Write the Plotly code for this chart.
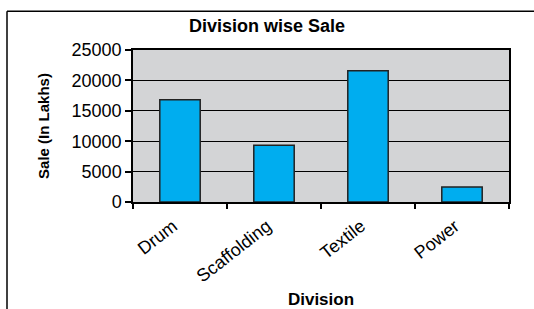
import plotly.graph_objects as go

divisions = ["Drum", "Scaffolding", "Textile", "Power"]
sales = [16800, 9350, 21600, 2450]
y_ticks = [0, 5000, 10000, 15000, 20000, 25000]
y_tick_labels = ["0", "5000", "10000", "15000", "20000", "25000"]

FONT = "Liberation Sans, Arial, sans-serif"

fig = go.Figure(go.Bar(
    x=divisions, y=sales,
    marker=dict(color="#00ADEF", line=dict(color="#222222", width=1.5)),
))

fig.update_layout(
    width=534, height=309,
    margin=dict(l=133, r=25, t=50, b=107, autoexpand=False),
    paper_bgcolor="white",
    plot_bgcolor="#D3D4D6",
    bargap=0.57,
    showlegend=False,
    font=dict(family=FONT, color="black", size=18),
    title=dict(text="<b>Division wise Sale</b>", x=0.5, xanchor="center",
               y=1 - 26 / 309, yanchor="middle", font=dict(size=18)),
    xaxis=dict(
        tickangle=-38, ticks="outside", tickson="boundaries", ticklen=5,
        tickcolor="black", tickwidth=1.5, automargin=False,
        ticklabelstandoff=5, ticklabelshift=-7,
        showline=True, linecolor="black", linewidth=1.5, mirror=True,
        showgrid=False, tickfont=dict(size=18),
        title=dict(text="<b>Division</b>", font=dict(size=17), standoff=14),
    ),
    yaxis=dict(
        range=[0, 25000], tickvals=y_ticks, ticktext=y_tick_labels,
        ticks="outside", ticklen=6, automargin=False,
        tickcolor="black", tickwidth=1.5,
        showline=True, linecolor="black", linewidth=1.5, mirror=True,
        showgrid=True, gridcolor="black", gridwidth=1.2,
        zeroline=False, tickfont=dict(size=18),
        title=dict(text="<b>Sale (In Lakhs)</b>", font=dict(size=15), standoff=18),
    ),
    shapes=[
        dict(type="line", xref="paper", yref="paper",
             x0=(7 - 133) / 376, x1=(540 - 133) / 376,
             y0=(201.5 - 12) / 151, y1=(201.5 - 12) / 151,
             line=dict(color="black", width=1.5)),
        dict(type="line", xref="paper", yref="paper",
             x0=(7 - 133) / 376, x1=(7 - 133) / 376,
             y0=(201.5 - 12) / 151, y1=(201.5 - 320) / 151,
             line=dict(color="black", width=1.5)),
    ],
)

fig.write_html("out.html", config={"displayModeBar": False},
               post_script="document.body.style.margin='0';")
